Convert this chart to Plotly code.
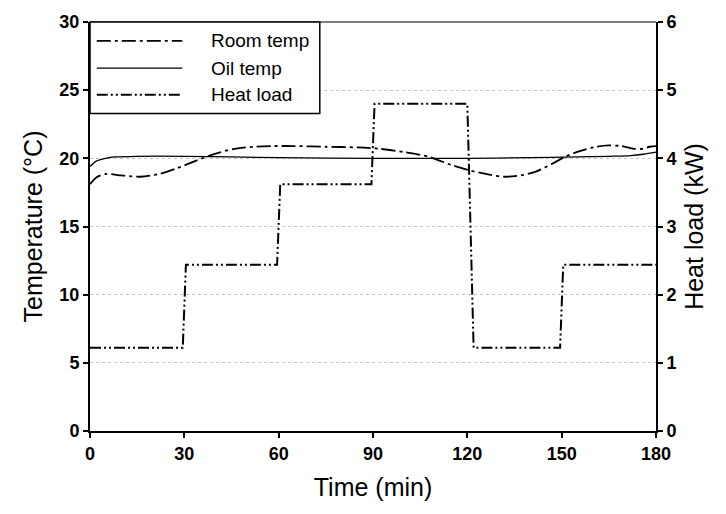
import plotly.graph_objects as go

# Data
room_t = [0, 2, 5, 10, 16, 22, 28, 34, 40, 46, 52, 58, 65, 75, 85, 92, 100, 108, 115, 121,
          127, 132, 137, 142, 147, 151, 156, 161, 165, 169, 173, 176, 178, 180]
room_T = [18.1, 18.6, 18.85, 18.75, 18.65, 18.85, 19.3, 19.85, 20.35, 20.7, 20.85, 20.9, 20.9,
          20.85, 20.8, 20.7, 20.45, 20.1, 19.5, 19.1, 18.8, 18.65, 18.75, 19.05, 19.6, 20.1,
          20.55, 20.85, 20.95, 20.9, 20.7, 20.7, 20.85, 20.9]

oil_t = [0, 2, 5, 8, 15, 30, 45, 60, 90, 120, 140, 155, 165, 172, 176, 180]
oil_T = [19.4, 19.8, 20.0, 20.1, 20.15, 20.15, 20.1, 20.05, 20.0, 20.0, 20.05, 20.1, 20.15,
         20.2, 20.3, 20.45]

heat_t = [0, 29.5, 30.5, 59.5, 60.5, 89.5, 90.5, 120, 122, 149.5, 150.5, 180]
heat_kW = [1.22, 1.22, 2.44, 2.44, 3.62, 3.62, 4.8, 4.8, 1.22, 1.22, 2.44, 2.44]

x_ticks = [0, 30, 60, 90, 120, 150, 180]
y1_ticks = [0, 5, 10, 15, 20, 25, 30]
y2_ticks = [0, 1, 2, 3, 4, 5, 6]

series_names = ["Room temp", "Oil temp", "Heat load"]
room_dash = "14px,4px,3px,4px"
oil_dash = "solid"
heat_dash = "11px,3px,2px,3px,2px,3px"

FONT = "Liberation Sans, Arial, sans-serif"

fig = go.Figure()
fig.add_trace(go.Scatter(x=room_t, y=room_T, mode="lines", name=series_names[0],
                         line=dict(color="black", width=1.8, dash=room_dash, shape="spline", smoothing=0.8)))
fig.add_trace(go.Scatter(x=oil_t, y=oil_T, mode="lines", name=series_names[1],
                         line=dict(color="black", width=1.3, shape="spline", smoothing=0.8)))
fig.add_trace(go.Scatter(x=heat_t, y=heat_kW, mode="lines", name=series_names[2], yaxis="y2",
                         line=dict(color="black", width=2, dash=heat_dash)))

tickfont = dict(family=FONT, size=18, color="black", weight="bold")
titlefont = dict(family=FONT, size=25, color="black")

fig.update_layout(
    width=726, height=514,
    margin=dict(l=90, r=70, t=16, b=83),
    paper_bgcolor="white", plot_bgcolor="white",
    showlegend=False,
    xaxis=dict(range=[0, 180], tickvals=x_ticks, showline=True, linecolor="black", linewidth=2,
               ticks="outside", ticklen=5, tickwidth=2, tickcolor="black", showgrid=False,
               zeroline=False, tickfont=tickfont,
               title=dict(text="Time (min)", font=titlefont, standoff=16)),
    yaxis=dict(range=[0, 30], tickvals=y1_ticks, showline=True, linecolor="black", linewidth=2,
               ticks="outside", ticklen=5, tickwidth=2, tickcolor="black",
               showgrid=True, gridcolor="#c4c4c4", griddash="dot", gridwidth=1,
               zeroline=False, tickfont=tickfont,
               title=dict(text="Temperature (°C)", font=titlefont, standoff=10)),
    yaxis2=dict(range=[0, 6], tickvals=y2_ticks, overlaying="y", side="right", showline=True,
                linecolor="black", linewidth=2, ticks="outside", ticklen=5, tickwidth=2,
                tickcolor="black", showgrid=False, zeroline=False, tickfont=tickfont,
                title=dict(text="Heat load (kW)", font=titlefont, standoff=10)),
)

# top border of the frame
fig.add_shape(type="line", xref="paper", yref="paper", x0=0, x1=1, y0=1, y1=1,
              line=dict(color="black", width=1.2))

# Custom legend box (long line samples like the reference)
legend_rows = [0.954, 0.887, 0.822]
dashes = [room_dash, oil_dash, heat_dash]
widths = [1.8, 1.3, 2]
fig.add_shape(type="rect", xref="paper", yref="paper", x0=0, x1=0.406, y0=0.776, y1=1.0,
              line=dict(color="black", width=1.5), fillcolor="white", layer="above")
for name, yy, d, w in zip(series_names, legend_rows, dashes, widths):
    fig.add_shape(type="line", xref="paper", yref="paper", x0=0.012, x1=0.163, y0=yy, y1=yy,
                  line=dict(color="black", width=w, dash=d), layer="above")
    fig.add_annotation(xref="paper", yref="paper", x=0.21, y=yy, text=name, showarrow=False,
                       xanchor="left", yanchor="middle",
                       font=dict(family=FONT, size=19, color="black"))

fig.write_html("out.html")
